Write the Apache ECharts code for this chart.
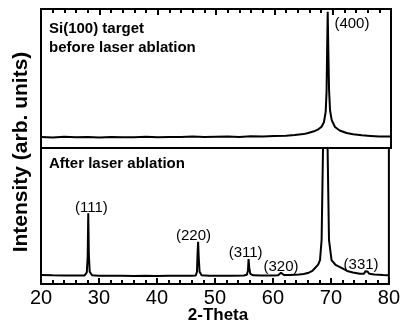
<!DOCTYPE html>
<html><head><meta charset="utf-8">
<script src="https://cdn.jsdelivr.net/npm/echarts@6/dist/echarts.min.js"></script>
<style>html,body{margin:0;padding:0;background:#fff}#c{width:403px;height:323px}</style>
</head><body><div id="c"></div>
<script>
// 2-Theta tick labels
var xTicks = [20, 30, 40, 50, 60, 70, 80];
// Top panel: Si(100) target before laser ablation  [2-theta, intensity (arb.)]
var beforeSpectrum = [
  [20,8.0],[22,7.6],[24,8.1],[26,7.7],[28,7.9],[30,7.6],[32,8.0],[34,7.8],[36,7.7],[38,8.1],
  [40,7.8],[42,8.0],[44,7.9],[46,8.2],[48,7.9],[50,8.1],[52,8.3],[54,8.0],[56,8.4],[58,8.3],
  [60,8.6],[62,8.8],[63.5,9.3],[65,10.0],[65.8,10.8],[66.8,12.0],[67.6,13.6],[68.1,15.3],
  [68.5,18.5],[68.8,26],[68.95,40],[69.05,70],[69.15,98],[69.25,72],[69.38,42],[69.55,27],
  [69.84,20.1],[70.4,15.1],[71.2,12.6],[72.4,10.8],[73.5,9.9],[75,9.1],[76.5,8.7],[78,8.3],[80,8.2]
];
// Bottom panel: after laser ablation
var afterSpectrum = [
  [20,6.6],[22,6.4],[24,6.3],[26,6.2],[27.5,6.2],[27.9,8.5],[28.05,20],[28.15,52],[28.25,22],
  [28.4,9],[28.8,6.4],[30,6.1],[32,6.0],[34,6.1],[36,5.9],[38,6.0],[40,5.9],[42,6.0],[44,6.0],
  [46,6.1],[46.7,6.3],[46.9,9],[47.0,22],[47.1,31],[47.2,20],[47.35,9],[47.7,6.4],[49,6.1],
  [51,6.0],[53,6.1],[55,6.3],[55.5,6.8],[55.7,10],[55.8,18.4],[55.92,12],[56.1,7.5],[56.6,6.4],
  [58,6.2],[60,6.3],[60.9,6.5],[61.2,7.4],[61.4,8.3],[61.6,7.6],[61.9,6.6],[63,6.6],[64.5,7.0],
  [65.3,7.4],[65.6,7.9],[66.2,8.3],[66.8,9.6],[67.27,11.8],[67.8,14.2],[68.12,17.6],[68.4,32.4],
  [68.64,100],[69.04,700],[69.43,100],[69.67,32.4],[70.11,17.6],[70.8,14],[71.83,11.8],
  [72.8,9.6],[73.8,8.4],[75,7.6],[75.7,7.6],[75.95,9.3],[76.1,10.3],[76.3,9.2],[76.6,7.6],
  [77.5,7.0],[79,6.6],[80,6.5]
];
// Peak labels (Miller indices) anchored in data units
var labelsTop = [['(400)', 73.3, 89]];
var labelsBottom = [['(111)', 28.7, 56.3], ['(220)', 46.3, 35.3], ['(311)', 55.3, 23.2],
                    ['(320)', 61.4, 12.9], ['(331)', 75.2, 14.0]];

var FONT = 'Liberation Sans, Arial, sans-serif';
var chart = echarts.init(document.getElementById('c'));

function xAx(gridIndex, pos, showLabels) {
  return {
    type: 'value', gridIndex: gridIndex, position: pos, min: xTicks[0], max: xTicks[xTicks.length - 1], interval: 10,
    axisLine: {show: true, onZero: false, lineStyle: {color: '#000', width: 2}},
    axisTick: {show: true, inside: true, length: 6, lineStyle: {color: '#000', width: 2}},
    minorTick: {show: true, splitNumber: 5, length: 4, lineStyle: {color: '#000', width: 2}},
    splitLine: {show: false},
    axisLabel: {show: showLabels, color: '#000', fontSize: 20, margin: 4}
  };
}
function yAx(gridIndex) {
  return {type: 'value', gridIndex: gridIndex, min: 0, max: 100, show: false};
}

chart.setOption({
  animation: false,
  grid: [
    {left: 41, right: 12, top: 9, height: 139, show: true, borderColor: '#000', borderWidth: 2},
    {left: 41, right: 12, top: 148, height: 136, show: true, borderColor: '#000', borderWidth: 2}
  ],
  xAxis: [xAx(0, 'top', false), xAx(1, 'bottom', true)],
  yAxis: [yAx(0), yAx(1)],
  series: [
    {type: 'line', xAxisIndex: 0, yAxisIndex: 0, data: beforeSpectrum, showSymbol: false, clip: true,
     lineStyle: {color: '#000', width: 2}},
    {type: 'line', xAxisIndex: 1, yAxisIndex: 1, data: afterSpectrum, showSymbol: false, clip: true,
     lineStyle: {color: '#000', width: 2}}
  ]
});

// text annotations; peak labels placed through the library's own scales
var texts = [
  {type: 'text', x: 49, y: 19, style: {text: 'Si(100) target\nbefore laser ablation', font: 'bold 15px ' + FONT, fill: '#000', lineHeight: 19, verticalAlign: 'top'}},
  {type: 'text', x: 49, y: 156, style: {text: 'After laser ablation', font: 'bold 15px ' + FONT, fill: '#000', verticalAlign: 'top'}},
  {type: 'text', x: 21, y: 152, rotation: Math.PI / 2, style: {text: 'Intensity (arb. units)', font: 'bold 21px ' + FONT, fill: '#000', align: 'center', verticalAlign: 'middle'}},
  {type: 'text', x: 218, y: 315, style: {text: '2-Theta', font: 'bold 17px ' + FONT, fill: '#000', align: 'center', verticalAlign: 'middle'}}
];
function addPeakLabels(list, gridIndex) {
  list.forEach(function (d) {
    var p = chart.convertToPixel({gridIndex: gridIndex}, [d[1], d[2]]);
    texts.push({type: 'text', x: p[0], y: p[1], silent: true,
      style: {text: d[0], font: '15px ' + FONT, fill: '#000', align: 'center', verticalAlign: 'middle'}});
  });
}
addPeakLabels(labelsTop, 0);
addPeakLabels(labelsBottom, 1);
chart.setOption({graphic: texts});
</script></body></html>
